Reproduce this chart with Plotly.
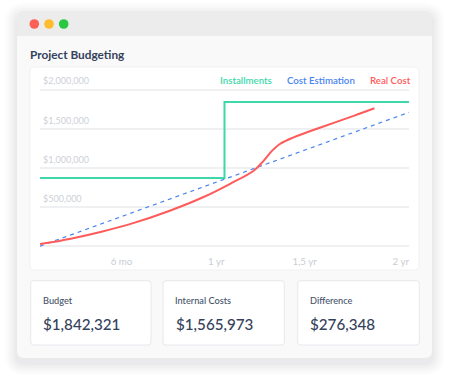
import plotly.graph_objects as go

# ---------------- data ----------------
inst_x = [0, 12, 24]
inst_y = [870000, 1842321, 1842321]

est_x = [0, 24]
est_y = [0, 1710000]

real_x = [0, 2, 4, 6, 8.4, 10.6, 12.4, 13.9, 14.5, 15.1, 15.6, 16.5, 18.2, 20.4, 21.75]
real_y = [25000, 95000, 184000, 290000, 449000, 624000, 800000, 964000,
          1080000, 1220000, 1305000, 1390000, 1513000, 1665000, 1762000]

x_tickvals = [6, 12, 18, 24]
x_ticktext = ["6 mo", "1 yr", "1,5 yr", "2 yr"]
y_tickvals = [0, 500000, 1000000, 1500000, 2000000]
y_ticktext = ["", "$500,000", "$1,000,000", "$1,500,000", "$2,000,000"]

series_names = ["Installments", "Cost Estimation", "Real Cost"]
series_colors = ["#3dd8aa", "#4a84f0", "#ff5a5a"]

card_labels = ["Budget", "Internal Costs", "Difference"]
card_values = ["$1,842,321", "$1,565,973", "$276,348"]

title_text = "Project Budgeting"

# ---------------- geometry helpers ----------------
W, H = 449, 381
L, R, T, B = 40, 40, 74, 131
PW, PH = W - L - R, H - T - B
FONT = "Lato, 'Open Sans', sans-serif"


def px(x):
    return (x - L) / PW


def py(y):
    return (H - B - y) / PH


def rrect_path(x0, y0, x1, y1, r, top_only=False):
    rb = 0 if top_only else r
    pts = [
        f"M{px(x0 + r)},{py(y0)}",
        f"L{px(x1 - r)},{py(y0)}",
        f"Q{px(x1)},{py(y0)} {px(x1)},{py(y0 + r)}",
        f"L{px(x1)},{py(y1 - rb)}",
        f"Q{px(x1)},{py(y1)} {px(x1 - rb)},{py(y1)}",
        f"L{px(x0 + rb)},{py(y1)}",
        f"Q{px(x0)},{py(y1)} {px(x0)},{py(y1 - rb)}",
        f"L{px(x0)},{py(y0 + r)}",
        f"Q{px(x0)},{py(y0)} {px(x0 + r)},{py(y0)}",
        "Z",
    ]
    return " ".join(pts)


shapes = []
# soft shadow
for i, a in enumerate([0.016, 0.018, 0.02, 0.022, 0.025]):
    g = 12 - i * 2.5
    shapes.append(dict(type="path", xref="paper", yref="paper", layer="below",
                       path=rrect_path(17 - g, 11 - g + 4, 432 + g, 358 + g + 5, 8 + g),
                       fillcolor=f"rgba(40,50,70,{a})", line=dict(width=0)))
# window body
shapes.append(dict(type="path", xref="paper", yref="paper", layer="below",
                   path=rrect_path(17, 11, 432, 358, 7),
                   fillcolor="#f9f9fa", line=dict(width=0)))
# title bar
shapes.append(dict(type="path", xref="paper", yref="paper", layer="below",
                   path=rrect_path(17, 11, 432, 36, 7, top_only=True),
                   fillcolor="#ececec", line=dict(width=0)))
# traffic lights
for cx, col in zip([34.3, 49, 63.7], ["#fe5f57", "#febc2e", "#28c840"]):
    rr = 4.8
    shapes.append(dict(type="circle", xref="paper", yref="paper", layer="below",
                       x0=px(cx - rr), x1=px(cx + rr), y0=py(24 + rr), y1=py(24 - rr),
                       fillcolor=col, line=dict(width=0)))
# chart card
shapes.append(dict(type="path", xref="paper", yref="paper", layer="below",
                   path=rrect_path(30, 67, 419, 270, 4),
                   fillcolor="#ffffff", line=dict(color="#f0f1f3", width=1)))
# bottom cards
card_x = [(30.7, 151), (163, 284.3), (297.7, 419.3)]
for (x0, x1) in card_x:
    shapes.append(dict(type="path", xref="paper", yref="paper", layer="below",
                       path=rrect_path(x0, 280.7, x1, 345, 3),
                       fillcolor="#ffffff", line=dict(color="#e6e8eb", width=1)))

annotations = []
annotations.append(dict(text=title_text, xref="paper", yref="paper",
                        x=px(28), y=py(54), xanchor="left", yanchor="middle",
                        showarrow=False,
                        font=dict(family=FONT, size=11.8, color="#33415a", weight=700)))
for name, col, cx in zip(series_names, series_colors, [245.5, 321.3, 390]):
    annotations.append(dict(text=name, xref="paper", yref="paper", x=px(cx), y=py(80),
                            xanchor="center", yanchor="middle", showarrow=False,
                            font=dict(family=FONT, size=9.7, color=col, weight=600)))
for (x0, x1), lab, val in zip(card_x, card_labels, card_values):
    annotations.append(dict(text=lab, xref="paper", yref="paper", x=px(x0 + 10), y=py(300),
                            xanchor="left", yanchor="middle", showarrow=False,
                            font=dict(family=FONT, size=9.2, color="#46536a", weight=500)))
    annotations.append(dict(text=val, xref="paper", yref="paper", x=px(x0 + 10.5), y=py(324),
                            xanchor="left", yanchor="middle", showarrow=False,
                            font=dict(family=FONT, size=15.2, color="#33415a", weight=500)))

fig = go.Figure()
fig.add_trace(go.Scatter(x=inst_x, y=inst_y, mode="lines", name=series_names[0],
                         line=dict(color=series_colors[0], width=2, shape="hv")))
fig.add_trace(go.Scatter(x=est_x, y=est_y, mode="lines", name=series_names[1],
                         line=dict(color=series_colors[1], width=1.2, dash="4px,4px")))
fig.add_trace(go.Scatter(x=real_x, y=real_y, mode="lines", name=series_names[2],
                         line=dict(color=series_colors[2], width=2, shape="spline", smoothing=1.0)))

fig.update_layout(
    width=W, height=H,
    margin=dict(l=L, r=R, t=T, b=B, pad=0),
    paper_bgcolor="#ffffff", plot_bgcolor="rgba(0,0,0,0)",
    showlegend=False,
    shapes=shapes, annotations=annotations,
    font=dict(family=FONT),
    xaxis=dict(range=[0, 24], showgrid=False, zeroline=False, showline=False,
               tickvals=x_tickvals, ticktext=x_ticktext, ticks="",
               ticklabelposition="outside left", ticklabelstandoff=4,
               tickfont=dict(family=FONT, size=9.7, color="#c9cdd3"), fixedrange=True),
    yaxis=dict(range=[-50000, 2200000], showgrid=True, gridcolor="#eef0f2", gridwidth=2,
               zeroline=True, zerolinecolor="#eef0f2", zerolinewidth=2, showline=False,
               tickvals=y_tickvals, ticktext=y_ticktext, ticks="",
               ticklabelposition="inside top", ticklabelshift=-2,
               tickfont=dict(family=FONT, size=9, color="#cdd1d7"), fixedrange=True),
)

fig.write_html("out.html", post_script="document.body.style.margin='0';",
               config={"displayModeBar": False})
